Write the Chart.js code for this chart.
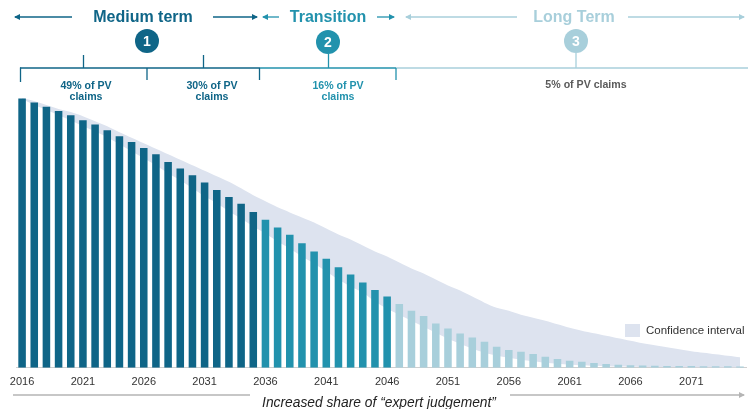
<!DOCTYPE html>
<html>
<head>
<meta charset="utf-8">
<script src="https://cdn.jsdelivr.net/npm/chart.js@4.4.1/dist/chart.umd.min.js"></script>
<style>
    html, body { margin: 0; padding: 0; background: #ffffff; }
    canvas { display: block; }
</style>
</head>
<body>
<canvas id="claimsChart" width="748" height="409"></canvas>
<script>
// ======================================================
// DATA
// ======================================================

const years = [
    "2016", "2017", "2018", "2019", "2020", "2021", "2022", "2023", "2024", "2025",
    "2026", "2027", "2028", "2029", "2030", "2031", "2032", "2033", "2034", "2035",
    "2036", "2037", "2038", "2039", "2040", "2041", "2042", "2043", "2044", "2045",
    "2046", "2047", "2048", "2049", "2050", "2051", "2052", "2053", "2054", "2055",
    "2056", "2057", "2058", "2059", "2060", "2061", "2062", "2063", "2064", "2065",
    "2066", "2067", "2068", "2069", "2070", "2071", "2072", "2073", "2074", "2075"
];

// labelled years on the axis
const tickYears = ["2016", "2021", "2026", "2031", "2036", "2041", "2046", "2051", "2056", "2061", "2066", "2071"];

// claims run-off (best estimate)
const claims = [
    268.7, 264.7, 260.3, 256.0, 252.0, 247.0, 242.7, 237.0, 231.0, 225.3,
    219.3, 213.0, 205.3, 198.7, 192.0, 184.7, 177.3, 170.3, 163.5, 155.3,
    147.7, 140.0, 132.7, 124.3, 116.0, 108.7, 100.3, 93.0, 85.0, 77.7,
    71.0, 63.7, 57.0, 51.7, 44.3, 39.3, 34.3, 30.3, 26.0, 21.0,
    17.7, 16.0, 13.7, 11.0, 8.7, 7.0, 6.0, 4.7, 3.7, 3.0,
    2.6, 2.3, 2.0, 1.9, 1.8, 1.7, 1.6, 1.5, 1.5, 1.4
];

// confidence interval bounds
const ciUpper = [
    269, 266, 262, 258, 255, 251, 246, 241, 235, 229.5,
    224, 218.5, 213, 207.5, 202, 196.5, 191, 185.5, 179, 172,
    166, 160, 155, 150, 145, 139, 133, 128, 122, 116,
    111, 105, 99, 94, 88, 82, 77, 71, 65, 60,
    57, 53, 50, 47, 43.5, 40, 37, 34.5, 32, 29.5,
    27, 24.5, 22.5, 20.5, 18.5, 16.5, 15, 13.5, 12, 10.5
];

const ciLower = [
    268, 262, 257, 252, 247, 241, 236, 230, 223, 216,
    209, 202, 194, 187, 179, 171, 164, 156, 149, 141,
    134, 126, 119, 111, 104, 96, 88, 81, 75, 66,
    59, 53, 47, 41, 35, 29, 24, 19, 15, 12,
    10, 8, 6.5, 5, 4, 3, 2.5, 2, 1.5, 1.2,
    1, 0.8, 0.6, 0.5, 0.4, 0.3, 0.2, 0.1, 0.1, 0.1
];

// last year of each phase
const mediumTermEnd = "2035";
const transitionEnd = "2046";

// ======================================================
// COLOURS
// ======================================================

const darkTeal = "#0f6587";
const midTeal = "#2292ad";
const lightTeal = "#a8cfdb";
const bandColour = "#dde3ef";

function barColour(context) {
    const year = years[context.dataIndex];
    if (year <= mediumTermEnd) return darkTeal;
    if (year <= transitionEnd) return midTeal;
    return lightTeal;
}

// ======================================================
// HEADER / FOOTER DRAWING
// ======================================================

function arrow(ctx, x1, x2, y, colour, headAtEnd) {
    ctx.save();
    ctx.strokeStyle = colour;
    ctx.fillStyle = colour;
    ctx.lineWidth = 1.3;
    ctx.beginPath();
    ctx.moveTo(x1, y);
    ctx.lineTo(x2, y);
    ctx.stroke();
    const hx = headAtEnd ? x2 : x1;
    const dir = headAtEnd ? 1 : -1;
    ctx.beginPath();
    ctx.moveTo(hx + dir * 1, y);
    ctx.lineTo(hx - dir * 5, y - 3);
    ctx.lineTo(hx - dir * 5, y + 3);
    ctx.closePath();
    ctx.fill();
    ctx.restore();
}

function line(ctx, x1, y1, x2, y2, colour) {
    ctx.save();
    ctx.strokeStyle = colour;
    ctx.lineWidth = 1.3;
    ctx.beginPath();
    ctx.moveTo(x1, y1);
    ctx.lineTo(x2, y2);
    ctx.stroke();
    ctx.restore();
}

function badge(ctx, x, y, text, colour) {
    ctx.save();
    ctx.fillStyle = colour;
    ctx.beginPath();
    ctx.arc(x, y, 12, 0, Math.PI * 2);
    ctx.fill();
    ctx.fillStyle = "#ffffff";
    ctx.font = "bold 14px 'Liberation Sans', Arial, sans-serif";
    ctx.textAlign = "center";
    ctx.textBaseline = "middle";
    ctx.fillText(text, x, y + 1);
    ctx.restore();
}

function label(ctx, text, x, y, font, colour) {
    ctx.save();
    ctx.font = font;
    ctx.fillStyle = colour;
    ctx.textAlign = "center";
    ctx.textBaseline = "alphabetic";
    ctx.fillText(text, x, y);
    ctx.restore();
}

const overlayPlugin = {
    id: "overlay",
    afterDraw(chart) {
        const ctx = chart.ctx;
        const titleFont = "bold 16px 'Liberation Sans', Arial, sans-serif";
        const noteFont = "bold 10.6px 'Liberation Sans', Arial, sans-serif";

        // phase titles
        arrow(ctx, 15, 72, 17, darkTeal, false);
        label(ctx, "Medium term", 143, 22, titleFont, darkTeal);
        arrow(ctx, 213, 257, 17, darkTeal, true);

        arrow(ctx, 263, 279, 17, midTeal, false);
        label(ctx, "Transition", 328, 22, titleFont, midTeal);
        arrow(ctx, 377, 394, 17, midTeal, true);

        arrow(ctx, 406, 517, 17, lightTeal, false);
        label(ctx, "Long Term", 574, 22, titleFont, lightTeal);
        arrow(ctx, 628, 744, 17, lightTeal, true);

        // numbered badges
        badge(ctx, 147, 41, "1", darkTeal);
        badge(ctx, 328, 42, "2", midTeal);
        badge(ctx, 576, 41, "3", lightTeal);

        // brackets
        line(ctx, 20, 68, 260, 68, darkTeal);
        line(ctx, 260, 68, 396, 68, midTeal);
        line(ctx, 396, 68, 748, 68, lightTeal);

        line(ctx, 20.5, 67.5, 20.5, 82, darkTeal);
        line(ctx, 147, 68, 147, 80, darkTeal);
        line(ctx, 259.5, 68, 259.5, 80, darkTeal);
        line(ctx, 396, 68, 396, 80, midTeal);

        line(ctx, 83.5, 55, 83.5, 68, darkTeal);
        line(ctx, 203.5, 55, 203.5, 68, darkTeal);
        line(ctx, 328.5, 54, 328.5, 68, midTeal);
        line(ctx, 576, 53, 576, 68, lightTeal);

        // share of claims
        label(ctx, "49% of PV", 86, 88.5, noteFont, darkTeal);
        label(ctx, "claims", 86, 100, noteFont, darkTeal);
        label(ctx, "30% of PV", 212, 88.5, noteFont, darkTeal);
        label(ctx, "claims", 212, 100, noteFont, darkTeal);
        label(ctx, "16% of PV", 338, 88.5, noteFont, midTeal);
        label(ctx, "claims", 338, 100, noteFont, midTeal);
        label(ctx, "5% of PV claims", 586, 88, noteFont, "#5a5a5a");

        // legend
        ctx.save();
        ctx.fillStyle = bandColour;
        ctx.fillRect(625, 324, 15, 13);
        ctx.fillStyle = "#333333";
        ctx.font = "11.5px 'Liberation Sans', Arial, sans-serif";
        ctx.textAlign = "left";
        ctx.textBaseline = "middle";
        ctx.fillText("Confidence interval", 646, 331);
        ctx.restore();

        // footer
        line(ctx, 13, 395, 250, 395, "#b5b5b5");
        arrow(ctx, 510, 744, 395, "#b5b5b5", true);
        label(ctx, "Increased share of \u201Cexpert judgement\u201D", 379, 406.5,
            "italic 13.8px 'Liberation Sans', Arial, sans-serif", "#222222");
    }
};

// ======================================================
// CHART
// ======================================================

const canvas = document.getElementById("claimsChart");

if (canvas) {

    const ctx = canvas.getContext("2d");

    new Chart(ctx, {

        type: "bar",

        data: {

            labels: years,

            datasets: [

                {
                    type: "bar",
                    label: "Claims",
                    data: claims,
                    backgroundColor: barColour,
                    borderWidth: 0,
                    barPercentage: 0.62,
                    categoryPercentage: 1.0,
                    order: 0
                },

                {
                    type: "line",
                    label: "Confidence interval",
                    data: ciUpper,
                    borderColor: "rgba(0,0,0,0)",
                    borderWidth: 0,
                    backgroundColor: bandColour,
                    pointRadius: 0,
                    tension: 0.3,
                    fill: "+1",
                    order: 1
                },

                {
                    type: "line",
                    label: "CI lower",
                    data: ciLower,
                    borderColor: "rgba(0,0,0,0)",
                    borderWidth: 0,
                    pointRadius: 0,
                    tension: 0.3,
                    fill: false,
                    order: 2
                }

            ]

        },

        options: {

            responsive: false,

            devicePixelRatio: 1,

            animation: false,

            layout: {
                padding: { top: 67, bottom: 12, left: 16, right: 0 }
            },

            plugins: {
                legend: { display: false },
                tooltip: { enabled: false }
            },

            scales: {

                x: {
                    offset: true,
                    grid: { display: false, drawTicks: false },
                    border: { display: true, color: "#cfcfcf", width: 1 },
                    ticks: {
                        autoSkip: false,
                        maxRotation: 0,
                        padding: 8,
                        color: "#333333",
                        font: { family: "'Liberation Sans', Arial, sans-serif", size: 11 },
                        callback: function (value, index) {
                            const year = years[index];
                            return tickYears.includes(year) ? year : "";
                        }
                    }
                },

                y: {
                    display: false,
                    min: 0,
                    max: 300
                }

            }

        },

        plugins: [overlayPlugin]

    });

}
</script>
</body>
</html>
